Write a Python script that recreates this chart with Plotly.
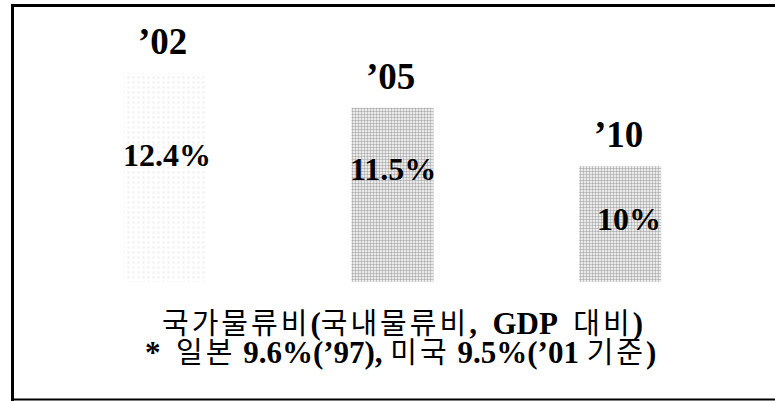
import plotly.graph_objects as go

# ---- data ----
years = ["\u201902", "\u201905", "\u201910"]
values = [12.4, 11.5, 10.0]
value_labels = ["12.4%", "11.5%", "10%"]
NB = "\u00a0"
caption_line1 = ["국가물류비", "(", "국내물류비", "," + NB + NB + "GDP" + NB + NB, "대비", ")"]
caption_line2 = ["*" + NB + NB, "일본", NB + "9.6%(\u201997)," + NB, "미국", NB + "9.5%(\u201901" + NB, "기준", ")"]
caption_kind1 = ["h", "l", "h", "l", "h", "l"]
caption_kind2 = ["l", "h", "l", "h", "l", "h", "l"]

# ---- layout constants ----
W, H = 775, 401
ML, MR, MT, MB = 51, 41, 20, 119
PW, PH = W - ML - MR, H - MT - MB
Y_BASE, Y_TOP = 7.0, 13.77

def px_x(p):
    return (p - ML) / PW

def px_y(p):
    return (H - MB - p) / PH

SERIF = "Liberation Serif, Times New Roman, serif"
HANGUL = "Noto Sans CJK KR, sans-serif"

xs = list(range(len(years)))

fig = go.Figure()
fig.add_trace(go.Bar(
    x=xs,
    y=[v - Y_BASE for v in values],
    base=Y_BASE,
    width=0.36,
    marker=dict(
        color=["#f4f4f4", "#acacac", "#acacac"],
        line=dict(width=0),
        pattern=dict(
            shape=".",
            fgcolor=["#a0a0a0", "#808080", "#808080"],
            bgcolor=["#fcfcfc", "#b6b6b6", "#b6b6b6"],
            size=[5, 3, 3],
            solidity=[0.25, 0.5, 0.5],
            fillmode="replace",
        ),
    ),
    hoverinfo="skip",
    showlegend=False,
))

# year labels above bars
for i, (yr, v) in enumerate(zip(years, values)):
    fig.add_annotation(
        x=i, y=v, xref="x", yref="y", text="<b>%s</b>" % yr,
        showarrow=False, yanchor="bottom", yshift=9, xshift=-2,
        font=dict(family=SERIF, size=37, color="#000"),
    )

# value labels inside bars (offset from bar top in px)
inside_offsets = [82, 61, 53]
inside_xshift = [2, 0, 9]
for i, (lbl, v) in enumerate(zip(value_labels, values)):
    fig.add_annotation(
        x=i, y=v, xref="x", yref="y", text="<b>%s</b>" % lbl,
        showarrow=False, yanchor="middle", yshift=-inside_offsets[i], xshift=inside_xshift[i],
        font=dict(family=SERIF, size=32, color="#000"),
    )

def seg(t, kind):
    if kind == "h":
        return "<span style='font-family:Noto Sans CJK KR;font-size:29px;letter-spacing:3px'>%s</span>" % t
    return "<span style='font-family:Liberation Serif;font-size:31px'><b>%s</b></span>" % t

line1 = "".join(seg(t, k) for t, k in zip(caption_line1, caption_kind1))
line2 = "".join(seg(t, k) for t, k in zip(caption_line2, caption_kind2))

fig.add_annotation(
    x=px_x(402), y=px_y(321), xref="paper", yref="paper", text=line1,
    showarrow=False, xanchor="center", yanchor="middle",
    font=dict(family=HANGUL, size=22, color="#000"),
)
fig.add_annotation(
    x=px_x(400), y=px_y(350), xref="paper", yref="paper", text=line2,
    showarrow=False, xanchor="center", yanchor="middle",
    font=dict(family=HANGUL, size=22, color="#000"),
)

# frame
fig.add_shape(type="line", xref="paper", yref="paper",
              x0=px_x(11), x1=px_x(780), y0=px_y(5.5), y1=px_y(5.5),
              line=dict(color="#000", width=3))
fig.add_shape(type="line", xref="paper", yref="paper",
              x0=px_x(12.5), x1=px_x(12.5), y0=px_y(4), y1=px_y(401),
              line=dict(color="#000", width=3))
fig.add_shape(type="line", xref="paper", yref="paper",
              x0=px_x(11), x1=px_x(780), y0=px_y(399.5), y1=px_y(399.5),
              line=dict(color="#000", width=2))

fig.update_layout(
    width=W, height=H,
    margin=dict(l=ML, r=MR, t=MT, b=MB),
    paper_bgcolor="#fff", plot_bgcolor="#fff",
    xaxis=dict(range=[-0.5, 2.5], visible=False, fixedrange=True),
    yaxis=dict(range=[Y_BASE, Y_TOP], visible=False, fixedrange=True),
    bargap=0.64,
)

fig.write_html(
    "out.html",
    config={"displayModeBar": False},
    post_script=(
        "document.body.style.margin='0';"
        "document.body.style.overflow='hidden';"
        "document.documentElement.style.overflow='hidden';"
    ),
)
